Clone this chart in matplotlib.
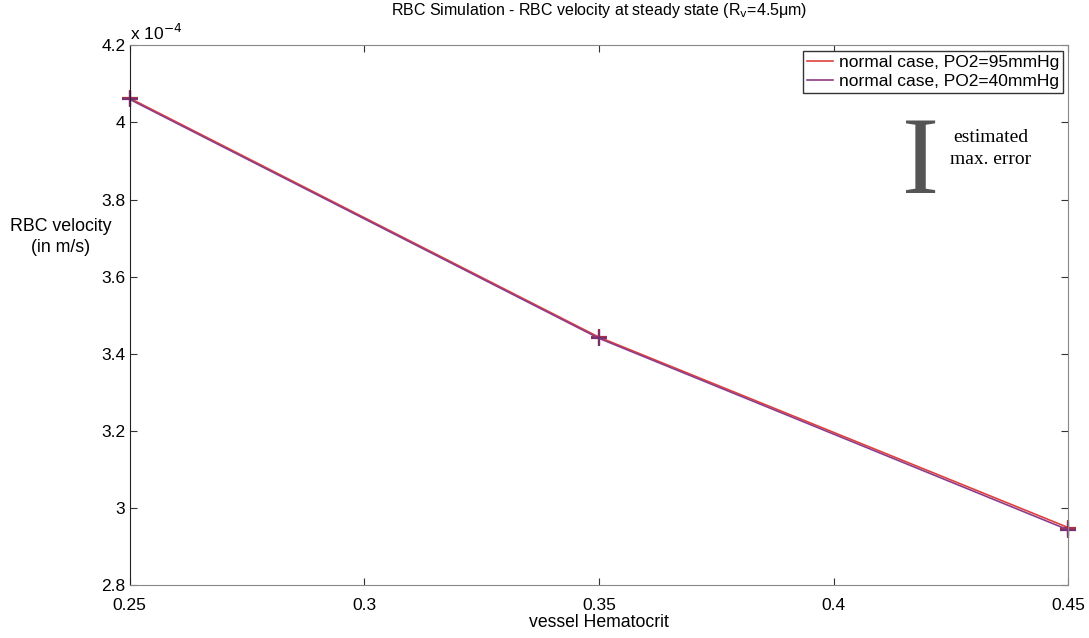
import matplotlib
matplotlib.use("Agg")
import matplotlib.pyplot as plt
from matplotlib.ticker import FuncFormatter

plt.rcParams['font.family'] = ['Liberation Sans', 'DejaVu Sans']

# vessel hematocrit and RBC velocity (m/s)
hematocrit = [0.25, 0.35, 0.45]
vel_po2_95 = [4.063e-4, 3.443e-4, 2.949e-4]
vel_po2_40 = [4.060e-4, 3.440e-4, 2.943e-4]
series_labels = ['normal case, PO2=95mmHg', 'normal case, PO2=40mmHg']
x_ticks = [0.25, 0.3, 0.35, 0.4, 0.45]
y_ticks = [2.8e-4, 3.0e-4, 3.2e-4, 3.4e-4, 3.6e-4, 3.8e-4, 4.0e-4, 4.2e-4]

fig = plt.figure(figsize=(10.89, 6.38), dpi=100)
ax = fig.add_axes([0.119, 0.083, 0.862, 0.846])

ax.plot(hematocrit, vel_po2_95, color='#e0403c', lw=1.2, marker='+',
        ms=12, mew=1.6, mec='#b03040', label=series_labels[0], clip_on=False)
ax.plot(hematocrit, vel_po2_40, color='#8c3c88', lw=1.2, marker='+',
        ms=12, mew=1.6, mec='#7a3070', label=series_labels[1], clip_on=False)

ax.set_xlim(0.25, 0.45)
ax.set_ylim(2.8e-4, 4.2e-4)
ax.set_xticks(x_ticks)
ax.set_yticks(y_ticks)
ax.xaxis.set_major_formatter(FuncFormatter(lambda v, p: f'{v:g}'))
ax.yaxis.set_major_formatter(FuncFormatter(lambda v, p: f'{round(v / 1e-4, 2):g}'))
ax.tick_params(direction='in', length=5, labelsize=12.5, top=True, right=True,
               color='#333333')
ax.tick_params(axis='x', pad=9)
ax.tick_params(axis='y', pad=3)

for side in ('top', 'right', 'bottom'):
    ax.spines[side].set_linestyle((0, (1, 1)))
    ax.spines[side].set_color('#888888')
ax.spines['left'].set_color('#222222')

ax.text(0.0, 1.005, r'x 10$^{-4}$', transform=ax.transAxes, fontsize=12.5,
        ha='left', va='bottom')

ax.set_title(r'RBC Simulation - RBC velocity at steady state (R$_\mathrm{v}$=4.5μm)',
             fontsize=11.5, pad=22)
ax.set_xlabel('vessel Hematocrit', fontsize=12.7, labelpad=1)
fig.text(0.056, 0.629, 'RBC velocity\n(in m/s)', fontsize=12.8, ha='center',
         va='center', linespacing=1.3)

leg = ax.legend(loc='upper right', fontsize=12.5, handlelength=1.5,
                handletextpad=0.3, borderpad=0.25, labelspacing=0.2,
                fancybox=False, framealpha=1, edgecolor='#333333',
                borderaxespad=0.3)
for h in leg.legend_handles:
    h.set_marker('')

# error-size indicator
ax.text(0.843, 0.775, 'I', transform=ax.transAxes, fontsize=80,
        family=['Liberation Serif', 'DejaVu Serif'], color='#555555',
        ha='center', va='center')
ax.text(0.917, 0.809, 'estimated\nmax. error', transform=ax.transAxes,
        fontsize=14, family=['Liberation Serif', 'DejaVu Serif'],
        ha='center', va='center', linespacing=1.35)

fig.savefig('out.png', dpi=100)
